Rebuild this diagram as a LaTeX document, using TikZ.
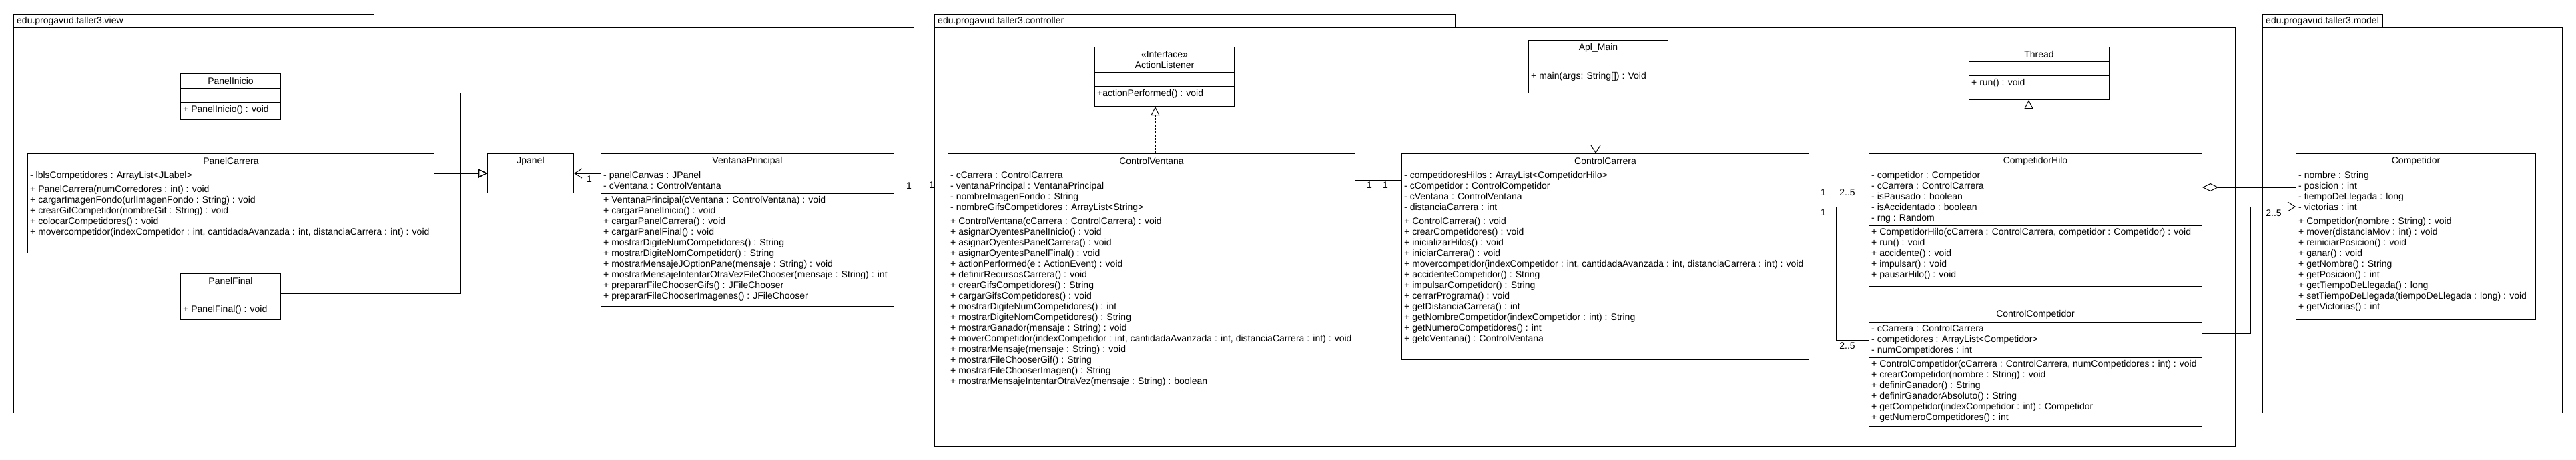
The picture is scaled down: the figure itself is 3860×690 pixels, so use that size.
\documentclass[tikz,border=0pt]{standalone}
\usepackage{fontspec}
\setmainfont{Liberation Sans}
\usetikzlibrary{arrows.meta}

\newcommand{\umlfont}{\fontsize{14}{16}\selectfont}
\tikzset{
	pkgbox/.style = {draw, line width=1pt, anchor=north west, inner sep=0pt},
	pkgname/.style = {font=\umlfont, anchor=west, inner xsep=5pt, inner ysep=0pt},
	classbox/.style = {draw, line width=1pt, fill=white, anchor=north west, inner sep=0pt},
	classline/.style = {draw, line width=1pt},
	classname/.style = {font=\umlfont, inner sep=0pt, align=center},
	members/.style = {font=\umlfont, anchor=north west, align=left, inner xsep=4pt, inner ysep=3.5pt},
	link/.style = {draw, line width=1pt},
	gen/.style = {link, -{Triangle[open, length=13pt, width=13pt]}},
	realize/.style = {gen, dash pattern=on 3pt off 2pt},
	assoc/.style = {link, -{Straight Barb[length=11pt, width=14pt]}},
	aggr/.style = {link, {Diamond[open, length=24pt, width=12pt]}-},
	mult/.style = {font=\umlfont, inner sep=0pt}
}
% name, (x,y), width, heights of the three parts, title, attributes, methods
\newcommand{\umlclass}[9]{%
	\node[classbox, minimum width=#3, minimum height=#4+#5+#6] (#1) at #2 {};
	\draw[classline] ([yshift=-#4pt]#1.north west) -- ([yshift=-#4pt]#1.north east);
	\draw[classline] ([yshift=-#4pt-#5pt]#1.north west) -- ([yshift=-#4pt-#5pt]#1.north east);
	\node[classname] (#1-n) at ([yshift=-0.5*#4pt]#1.north) {#7};
	\node[members] (#1-a) at ([yshift=-#4pt]#1.north west) {\strut#8};
	\node[members] (#1-m) at ([yshift=-#4pt-#5pt]#1.north west) {\strut#9};
}

\begin{document}
\begin{tikzpicture}[x=1pt, y=-1pt]
	\useasboundingbox[fill=white] (0,0) rectangle (3860,690);

	\node[pkgbox, minimum width=1349, minimum height=578] (view) at (20,41) {};
	\node[pkgbox, minimum width=540, minimum height=20] (viewtab) at (20,21) {};
	\node[pkgname] (viewname) at (viewtab.west) {edu.progavud.taller3.view};
	\node[pkgbox, minimum width=1949, minimum height=628] (ctrl) at (1400,41) {};
	\node[pkgbox, minimum width=780, minimum height=20] (ctrltab) at (1400,21) {};
	\node[pkgname] (ctrlname) at (ctrltab.west) {edu.progavud.taller3.controller};
	\node[pkgbox, minimum width=449, minimum height=578] (model) at (3390,41) {};
	\node[pkgbox, minimum width=180, minimum height=20] (modeltab) at (3390,21) {};
	\node[pkgname] (modelname) at (modeltab.west) {edu.progavud.taller3.model};

	\umlclass{pinicio}{(270,110)}{150}{23}{21}{25}{PanelInicio}{}{+ PanelInicio() : void}
	\umlclass{pcarrera}{(41,230)}{609}{23}{21}{105}{PanelCarrera}
		{- lblsCompetidores : ArrayList<JLabel>}
		{+ PanelCarrera(numCorredores : int) : void\\
		 + cargarImagenFondo(urlImagenFondo : String) : void\\
		 + crearGifCompetidor(nombreGif : String) : void\\
		 + colocarCompetidores() : void\\
		 + movercompetidor(indexCompetidor : int, cantidadaAvanzada : int, distanciaCarrera : int) : void}
	\umlclass{pfinal}{(270,410)}{150}{23}{21}{25}{PanelFinal}{}{+ PanelFinal() : void}
	\umlclass{jpanel}{(730,230)}{129}{23}{36}{0}{Jpanel}{}{}
	\umlclass{vprincipal}{(900,230)}{439}{23}{37}{169}{VentanaPrincipal}
		{- panelCanvas : JPanel\\
		 - cVentana : ControlVentana}
		{+ VentanaPrincipal(cVentana : ControlVentana) : void\\
		 + cargarPanelInicio() : void\\
		 + cargarPanelCarrera() : void\\
		 + cargarPanelFinal() : void\\
		 + mostrarDigiteNumCompetidores() : String\\
		 + mostrarDigiteNomCompetidor() : String\\
		 + mostrarMensajeJOptionPane(mensaje : String) : void\\
		 + mostrarMensajeIntentarOtraVezFileChooser(mensaje : String) : int\\
		 + prepararFileChooserGifs() : JFileChooser\\
		 + prepararFileChooserImagenes() : JFileChooser}

	\umlclass{alistener}{(1640,70)}{209}{39}{21}{29}{«Interface»\\ActionListener}{}{+actionPerformed() : void}
	\umlclass{cventana}{(1420,230)}{610}{23}{69}{267}{ControlVentana}
		{- cCarrera : ControlCarrera\\
		 - ventanaPrincipal : VentanaPrincipal\\
		 - nombreImagenFondo : String\\
		 - nombreGifsCompetidores : ArrayList<String>}
		{+ ControlVentana(cCarrera : ControlCarrera) : void\\
		 + asignarOyentesPanelInicio() : void\\
		 + asignarOyentesPanelCarrera() : void\\
		 + asignarOyentesPanelFinal() : void\\
		 + actionPerformed(e : ActionEvent) : void\\
		 + definirRecursosCarrera() : void\\
		 + crearGifsCompetidores() : String\\
		 + cargarGifsCompetidores() : void\\
		 + mostrarDigiteNumCompetidores() : int\\
		 + mostrarDigiteNomCompetidores() : String\\
		 + mostrarGanador(mensaje : String) : void\\
		 + moverCompetidor(indexCompetidor : int, cantidadaAvanzada : int, distanciaCarrera : int) : void\\
		 + mostrarMensaje(mensaje : String) : void\\
		 + mostrarFileChooserGif() : String\\
		 + mostrarFileChooserImagen() : String\\
		 + mostrarMensajeIntentarOtraVez(mensaje : String) : boolean}
	\umlclass{apl}{(2290,60)}{209}{23}{21}{35}{Apl\_Main}{}{+ main(args: String[]) : Void}
	\umlclass{ccarrera}{(2100,230)}{610}{23}{69}{217}{ControlCarrera}
		{- competidoresHilos : ArrayList<CompetidorHilo>\\
		 - cCompetidor : ControlCompetidor\\
		 - cVentana : ControlVentana\\
		 - distanciaCarrera : int}
		{+ ControlCarrera() : void\\
		 + crearCompetidores() : void\\
		 + inicializarHilos() : void\\
		 + iniciarCarrera() : void\\
		 + movercompetidor(indexCompetidor : int, cantidadaAvanzada : int, distanciaCarrera : int) : void\\
		 + accidenteCompetidor() : String\\
		 + impulsarCompetidor() : String\\
		 + cerrarPrograma() : void\\
		 + getDistanciaCarrera() : int\\
		 + getNombreCompetidor(indexCompetidor : int) : String\\
		 + getNumeroCompetidores() : int\\
		 + getcVentana() : ControlVentana}
	\umlclass{thread}{(2950,70)}{210}{23}{21}{35}{Thread}{}{+ run() : void}
	\umlclass{chilo}{(2800,230)}{499}{23}{85}{91}{CompetidorHilo}
		{- competidor : Competidor\\
		 - cCarrera : ControlCarrera\\
		 - isPausado : boolean\\
		 - isAccidentado : boolean\\
		 - rng : Random}
		{+ CompetidorHilo(cCarrera : ControlCarrera, competidor : Competidor) : void\\
		 + run() : void\\
		 + accidente() : void\\
		 + impulsar() : void\\
		 + pausarHilo() : void}
	\umlclass{ccomp}{(2800,460)}{499}{23}{53}{103}{ControlCompetidor}
		{- cCarrera : ControlCarrera\\
		 - competidores : ArrayList<Competidor>\\
		 - numCompetidores : int}
		{+ ControlCompetidor(cCarrera : ControlCarrera, numCompetidores : int) : void\\
		 + crearCompetidor(nombre : String) : void\\
		 + definirGanador() : String\\
		 + definirGanadorAbsoluto() : String\\
		 + getCompetidor(indexCompetidor : int) : Competidor\\
		 + getNumeroCompetidores() : int}

	\umlclass{competidor}{(3440,230)}{359}{23}{69}{157}{Competidor}
		{- nombre : String\\
		 - posicion : int\\
		 - tiempoDeLlegada : long\\
		 - victorias : int}
		{+ Competidor(nombre : String) : void\\
		 + mover(distanciaMov : int) : void\\
		 + reiniciarPosicion() : void\\
		 + ganar() : void\\
		 + getNombre() : String\\
		 + getPosicion() : int\\
		 + getTiempoDeLlegada() : long\\
		 + setTiempoDeLlegada(tiempoDeLlegada : long) : void\\
		 + getVictorias() : int}

	\path (jpanel.west) ++(-40,0) coordinate (vjoin);
	\draw[gen] ([yshift=-30pt]pinicio.north east) -| (vjoin) -- (jpanel.west);
	\draw[gen] (pcarrera.east |- vjoin) -- (jpanel.west);
	\draw[gen] ([yshift=-30pt]pfinal.north east) -| (vjoin) -- (jpanel.west);
	\draw[assoc] (vprincipal.west |- jpanel.west) -- (jpanel.east);
	\node[mult] (m1) at (883,269) {1};

	\draw[link] ([yshift=-38pt]vprincipal.north east) -- ([yshift=-38pt]cventana.north west);
	\node[mult] (m2) at (1362,279) {1};
	\node[mult] (m3) at (1396,278) {1};
	\draw[realize] ([xshift=311pt]cventana.north west) coordinate (rz) -- (rz |- alistener.south);

	\draw[link] ([yshift=-40pt]cventana.north east) -- ([yshift=-40pt]ccarrera.north west);
	\node[mult] (m4) at (2052,278) {1};
	\node[mult] (m5) at (2076,278) {1};
	\draw[assoc] ([xshift=-4pt]apl.south) coordinate (ap) -- (ap |- ccarrera.north);

	\draw[link] ([yshift=-50pt]ccarrera.north east) -- ([yshift=-50pt]chilo.north west);
	\node[mult] (m6) at (2732,289) {1};
	\node[mult] (m7) at (2768,289) {2..5};
	\draw[link] ([yshift=-80pt]ccarrera.north east) -- ++(40,0) |- ([yshift=-50pt]ccomp.north west);
	\node[mult] (m8) at (2732,319) {1};
	\node[mult] (m9) at (2768,519) {2..5};
	\draw[gen] ([xshift=240pt]chilo.north west) coordinate (th) -- (th |- thread.south);

	\draw[aggr] ([yshift=-51pt]chilo.north east) -- ([yshift=-51pt]competidor.north west);
	\draw[assoc] ([yshift=-40pt]ccomp.north east) -- ++(72,0) |- ([yshift=-80pt]competidor.north west);
	\node[mult] (m10) at (3407,320) {2..5};
\end{tikzpicture}
\end{document}
